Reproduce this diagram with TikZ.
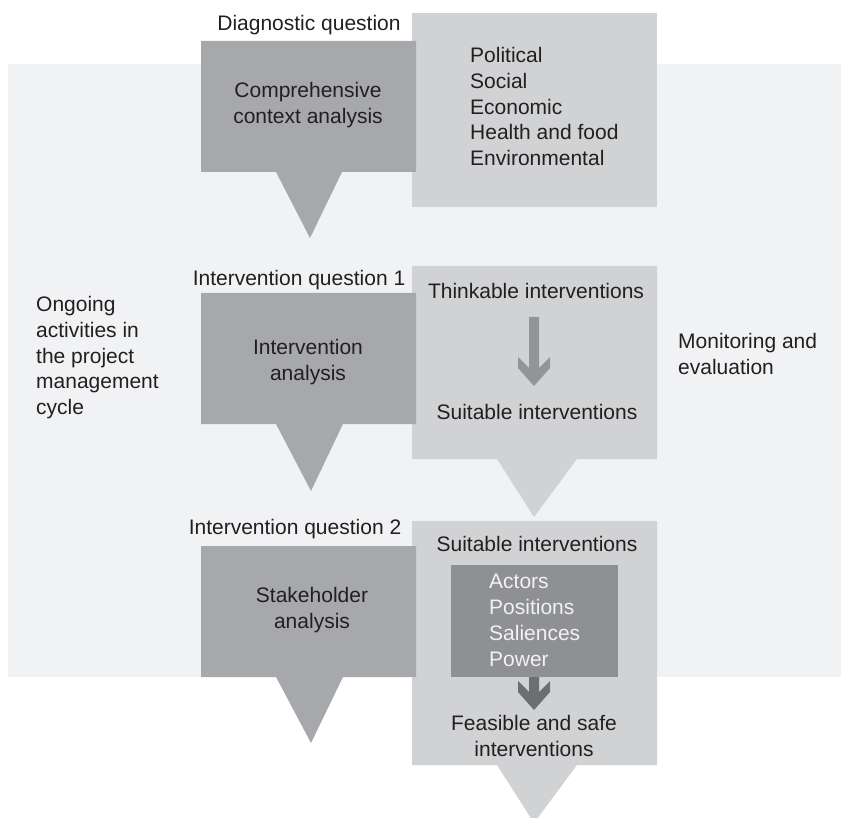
\documentclass[tikz,border=0pt]{standalone}
\usepackage{fontspec}
\setmainfont{Liberation Sans}
\definecolor{bgc}{HTML}{F1F2F4}
\definecolor{lightc}{HTML}{D1D2D4}
\definecolor{darkc}{HTML}{A7A8AB}
\definecolor{innerc}{HTML}{8F9093}
\definecolor{arrowa}{HTML}{939497}
\definecolor{arrowb}{HTML}{6D6E71}
\definecolor{txt}{HTML}{231F20}
\begin{document}
\begin{tikzpicture}[x=1pt,y=-1pt,
  lbl/.style={inner sep=0pt, text=txt, font=\fontsize{21pt}{25.8pt}\selectfont},
  darkshape/.style={fill=darkc},
  lightshape/.style={fill=lightc}]
\clip (0,0) rectangle (841,818);
\useasboundingbox (0,0) rectangle (841,818);
% background
\fill[bgc] (8,64) rectangle (841,677);
% light boxes
\fill[lightshape] (412,13) rectangle (657,207);
\fill[lightshape] (412,266) -- (657,266) -- (657,459) -- (577,459) -- (534,517) -- (497,459) -- (412,459) -- cycle;
\fill[lightshape] (412,521) -- (657,521) -- (657,765) -- (577,765) -- (534,823) -- (497,765) -- (412,765) -- cycle;
% dark boxes
\fill[darkshape] (201,41) -- (416,41) -- (416,172) -- (342,172) -- (310,238) -- (276,172) -- (201,172) -- cycle;
\fill[darkshape] (201,293) -- (416,293) -- (416,424) -- (343,424) -- (311,491) -- (276,424) -- (201,424) -- cycle;
\fill[darkshape] (201,546) -- (416,546) -- (416,677) -- (343,677) -- (311,743) -- (276,677) -- (201,677) -- cycle;
% inner box
\fill[innerc] (451,565) rectangle (618,677);
% arrows
\fill[arrowa] (529,317) -- (539,317) -- (539,368) -- (550,357) -- (550,368) -- (534,386) -- (518,368) -- (518,357) -- (529,368) -- cycle;
\fill[arrowb] (529,677) -- (539,677) -- (539,692) -- (550,681) -- (550,692) -- (534,710) -- (518,692) -- (518,681) -- (529,692) -- cycle;
% texts
\node[lbl, anchor=base] (dq) at (309,31) {Diagnostic question};
\node[lbl, align=center, anchor=north] (cca) at (308,82) {Comprehensive\\context analysis};
\node[lbl, align=left, anchor=north west] (ctx) at (470,47) {Political\\Social\\Economic\\Health and food\\Environmental};
\node[lbl, anchor=base] (iq1) at (299,286) {Intervention question 1};
\node[lbl, align=center, anchor=north] (ia) at (308,339) {Intervention\\analysis};
\node[lbl, anchor=base] (ti) at (536,299) {Thinkable interventions};
\node[lbl, anchor=base] (si1) at (537,419) {Suitable interventions};
\node[lbl, anchor=base] (iq2) at (295,534) {Intervention question 2};
\node[lbl, anchor=base] (si2) at (537,551) {Suitable interventions};
\node[lbl, align=center, anchor=north] (sa) at (312,587) {Stakeholder\\analysis};
\node[lbl, align=left, anchor=north west, text=white!95!black] (act) at (489,574) {Actors\\Positions\\Saliences\\Power};
\node[lbl, align=center, anchor=north] (fs) at (534,715) {Feasible and safe\\interventions};
\node[lbl, align=left, anchor=north west] (og) at (36,296) {Ongoing\\activities in\\the project\\management\\cycle};
\node[lbl, align=left, anchor=north west] (me) at (678,333) {Monitoring and\\evaluation};
\end{tikzpicture}
\end{document}
